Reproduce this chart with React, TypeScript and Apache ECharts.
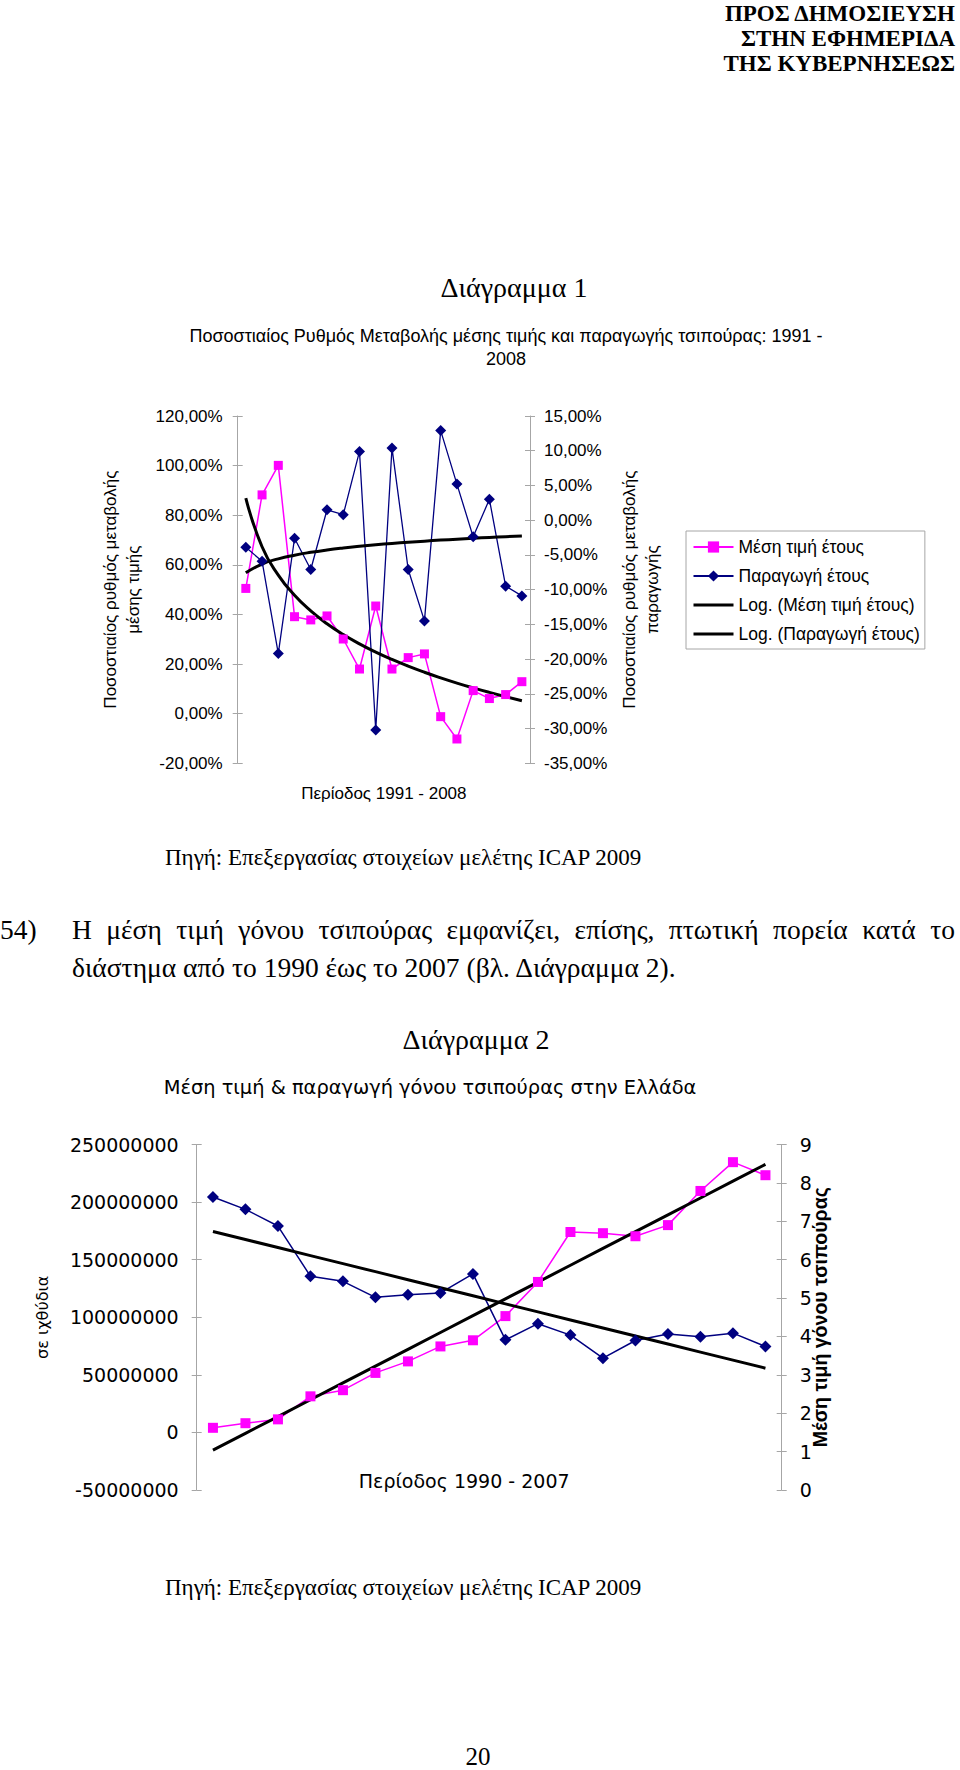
import React, { useEffect, useRef } from "react";
import * as echarts from "echarts";

// ---------- Διάγραμμα 1 data ----------
const years1 = ["1991", "1992", "1993", "1994", "1995", "1996", "1997", "1998", "1999", "2000", "2001", "2002", "2003", "2004", "2005", "2006", "2007", "2008"];
const priceChange1 = [50.5, 88.2, 100.1, 39.1, 37.8, 39.4, 30.1, 18.0, 43.4, 18.0, 22.6, 24.1, -1.2, -10.2, 9.3, 6.1, 7.7, 12.9];
const prodChange1 = [-3.9, -5.9, -19.2, -2.6, -7.1, 1.5, 0.8, 9.9, -30.2, 10.4, -7.1, -14.5, 12.9, 5.2, -2.4, 3.0, -9.5, -10.9];
const leftAxis1 = { min: -20, max: 120, interval: 20 };
const rightAxis1 = { min: -35, max: 15, interval: 5 };

// ---------- Διάγραμμα 2 data ----------
const years2 = ["1990", "1991", "1992", "1993", "1994", "1995", "1996", "1997", "1998", "1999", "2000", "2001", "2002", "2003", "2004", "2005", "2006", "2007"];
const production2 = [204400000, 193700000, 179200000, 135600000, 131200000, 117300000, 119600000, 121100000, 137600000, 80400000, 94400000, 84500000, 64500000, 79800000, 85400000, 83000000, 86200000, 74600000];
const price2 = [1.62, 1.74, 1.84, 2.44, 2.6, 3.05, 3.35, 3.74, 3.9, 4.53, 5.42, 6.72, 6.69, 6.61, 6.9, 7.79, 8.54, 8.2];
const leftAxis2 = { min: -50000000, max: 250000000, interval: 50000000 };
const rightAxis2 = { min: 0, max: 9, interval: 1 };

// least-squares trend line (as Excel's trendline), x = 1..n, optionally log(x)
function trend(ys: number[], useLog: boolean): number[] {
  const xs = ys.map((_, i) => (useLog ? Math.log(i + 1) : i + 1));
  const n = ys.length;
  const mx = xs.reduce((s, v) => s + v, 0) / n;
  const my = ys.reduce((s, v) => s + v, 0) / n;
  let sxy = 0;
  let sxx = 0;
  for (let i = 0; i < n; i++) {
    sxy += (xs[i] - mx) * (ys[i] - my);
    sxx += (xs[i] - mx) * (xs[i] - mx);
  }
  const b = sxy / sxx;
  const a = my - b * mx;
  return xs.map((x) => a + b * x);
}

const AXIS_GRAY = "#a6a6a6";
const SANS = "Liberation Sans";
const WIDE = "DejaVu Sans";
const SERIF = "Liberation Serif";
const PINK = "#ff00ff";
const NAVY = "#000080";

function mainY(grid: number, pos: string, ax: any, fmt: any, margin: number, font: string, fs: number, name: string, nameGap: number, nameStyle: any) {
  return {
    type: "value",
    gridIndex: grid,
    position: pos,
    min: ax.min,
    max: ax.max,
    interval: ax.interval,
    axisLine: { show: true, lineStyle: { color: AXIS_GRAY, width: 1 } },
    axisTick: { show: true, inside: false, length: 5, lineStyle: { color: AXIS_GRAY } },
    axisLabel: { formatter: fmt, margin, color: "#000", fontFamily: font, fontSize: fs },
    splitLine: { show: false },
    name,
    nameLocation: "middle",
    nameGap,
    nameMoveOverlap: false,
    nameTextStyle: nameStyle,
  };
}
function dupY(grid: number, pos: string, ax: any) {
  return {
    type: "value",
    gridIndex: grid,
    position: pos,
    min: ax.min,
    max: ax.max,
    interval: ax.interval,
    axisLine: { show: false },
    axisTick: { show: true, inside: true, length: 5, lineStyle: { color: AXIS_GRAY } },
    axisLabel: { show: false },
    splitLine: { show: false },
  };
}

export default function App() {
  const ref = useRef<HTMLDivElement>(null);
  useEffect(() => {
    if (!ref.current) return;
    const chart = echarts.init(ref.current, undefined, { renderer: "svg" });
    const pct = (v: number) => v.toFixed(2).replace(".", ",") + "%";
    const plain = (v: number) => String(Math.round(v));
    const trendLegend = { itemStyle: { opacity: 0 }, lineStyle: { width: 3, color: "#000" } };
    const option: any = {
      animation: false,
      backgroundColor: "transparent",
      title: [
        {
          text: "Ποσοστιαίος Ρυθμός Μεταβολής μέσης τιμής και παραγωγής τσιπούρας: 1991 -\n2008",
          left: 506,
          top: 324,
          textAlign: "center",
          padding: 0,
          textStyle: { fontFamily: SANS, fontSize: 18, fontWeight: "normal", color: "#000", lineHeight: 23 },
        },
        {
          text: "Μέση τιμή & παραγωγή γόνου τσιπούρας στην Ελλάδα",
          left: 430,
          top: 1076,
          textAlign: "center",
          padding: 0,
          textStyle: { fontFamily: WIDE, fontSize: 19.4, fontWeight: "normal", color: "#000", lineHeight: 22 },
        },
      ],
      legend: {
        orient: "vertical",
        left: 686,
        top: 531,
        padding: [7, 5, 6, 6],
        itemGap: 11,
        itemWidth: 40,
        itemHeight: 14,
        borderColor: AXIS_GRAY,
        borderWidth: 1,
        textStyle: { fontFamily: SANS, fontSize: 17.5, lineHeight: 17, color: "#000" },
        data: [
          "Μέση τιμή έτους",
          "Παραγωγή έτους",
          { name: "Log. (Μέση τιμή έτους)", ...trendLegend },
          { name: "Log. (Παραγωγή έτους)", ...trendLegend },
        ],
      },
      grid: [
        { left: 237.7, top: 416, width: 292.3, height: 347.3 },
        { left: 196.7, top: 1144.5, width: 585, height: 345.5 },
      ],
      xAxis: [
        {
          type: "category",
          gridIndex: 0,
          data: years1,
          boundaryGap: true,
          axisLine: { show: false },
          axisTick: { show: false },
          axisLabel: { show: false },
          name: "Περίοδος 1991 - 2008",
          nameLocation: "middle",
          nameGap: 21,
          nameTextStyle: { fontFamily: SANS, fontSize: 17, color: "#000", lineHeight: 18 },
        },
        {
          type: "category",
          gridIndex: 1,
          data: years2,
          boundaryGap: true,
          axisLine: { show: false },
          axisTick: { show: false },
          axisLabel: { show: false },
          name: "Περίοδος 1990 - 2007",
          nameLocation: "middle",
          nameGap: -19,
          nameTextStyle: { fontFamily: WIDE, fontSize: 19, color: "#000", lineHeight: 20, padding: [0, 50, 0, 0] },
        },
      ],
      yAxis: [
        mainY(0, "left", leftAxis1, pct, 15, SANS, 17, "Ποσοστιαίος ρυθμός μεταβολής\nμέσης τιμής", 93, { fontFamily: SANS, fontSize: 17, lineHeight: 23, color: "#000" }),
        mainY(0, "right", rightAxis1, pct, 14, SANS, 17, "Ποσοστιαίος ρυθμός μεταβολής\nπαραγωγής", 88, { fontFamily: SANS, fontSize: 17, lineHeight: 23, color: "#000" }),
        mainY(1, "left", leftAxis2, plain, 18, WIDE, 19, "σε ιχθύδια", 145, { fontFamily: WIDE, fontSize: 16, lineHeight: 18, color: "#000" }),
        mainY(1, "right", rightAxis2, plain, 18, WIDE, 19, "Μέση τιμή γόνου τσιπούρας", 28, { fontFamily: SANS, fontSize: 19.5, fontWeight: "bold", lineHeight: 21, color: "#000" }),
        dupY(0, "left", leftAxis1),
        dupY(0, "right", rightAxis1),
        dupY(1, "left", leftAxis2),
        dupY(1, "right", rightAxis2),
      ],
      series: [
        {
          name: "Μέση τιμή έτους",
          type: "line",
          xAxisIndex: 0,
          yAxisIndex: 0,
          data: priceChange1,
          symbol: "rect",
          symbolSize: 9,
          showAllSymbol: true,
          color: PINK,
          lineStyle: { color: PINK, width: 1.5 },
          itemStyle: { color: PINK },
        },
        {
          name: "Παραγωγή έτους",
          type: "line",
          xAxisIndex: 0,
          yAxisIndex: 1,
          data: prodChange1,
          symbol: "diamond",
          symbolSize: 11,
          showAllSymbol: true,
          color: NAVY,
          lineStyle: { color: NAVY, width: 1.3 },
          itemStyle: { color: NAVY },
        },
        {
          name: "Log. (Μέση τιμή έτους)",
          type: "line",
          xAxisIndex: 0,
          yAxisIndex: 0,
          data: trend(priceChange1, true),
          symbol: "none",
          smooth: true,
          color: "#000",
          lineStyle: { color: "#000", width: 3 },
        },
        {
          name: "Log. (Παραγωγή έτους)",
          type: "line",
          xAxisIndex: 0,
          yAxisIndex: 1,
          data: trend(prodChange1, true),
          symbol: "none",
          smooth: true,
          color: "#000",
          lineStyle: { color: "#000", width: 3 },
        },
        {
          name: "Μέση τιμή",
          type: "line",
          xAxisIndex: 1,
          yAxisIndex: 3,
          data: price2,
          symbol: "rect",
          symbolSize: 10,
          showAllSymbol: true,
          color: PINK,
          lineStyle: { color: PINK, width: 1.5 },
          itemStyle: { color: PINK },
        },
        {
          name: "Παραγωγή",
          type: "line",
          xAxisIndex: 1,
          yAxisIndex: 2,
          data: production2,
          symbol: "diamond",
          symbolSize: 12,
          showAllSymbol: true,
          color: NAVY,
          lineStyle: { color: NAVY, width: 1.5 },
          itemStyle: { color: NAVY },
        },
        {
          name: "Γραμμική (Μέση τιμή)",
          type: "line",
          xAxisIndex: 1,
          yAxisIndex: 3,
          data: trend(price2, false),
          symbol: "none",
          color: "#000",
          lineStyle: { color: "#000", width: 3 },
        },
        {
          name: "Γραμμική (Παραγωγή)",
          type: "line",
          xAxisIndex: 1,
          yAxisIndex: 2,
          data: trend(production2, false),
          symbol: "none",
          color: "#000",
          lineStyle: { color: "#000", width: 3 },
        },
      ],
    };
    chart.setOption(option);
    return () => chart.dispose();
  }, []);

  const serif: React.CSSProperties = { position: "absolute", fontFamily: SERIF, color: "#000", whiteSpace: "nowrap" };
  return (
    <div style={{ position: "absolute", left: 0, top: 0, width: 960, height: 1770, background: "#fff", overflow: "hidden" }}>
      <div ref={ref} style={{ position: "absolute", left: 0, top: 0, width: 960, height: 1770 }} />
      <div style={{ ...serif, right: 5, top: 1, fontSize: 23, fontWeight: "bold", lineHeight: "25px", textAlign: "right" }}>
        ΠΡΟΣ ΔΗΜΟΣΙΕΥΣΗ
        <br />
        ΣΤΗΝ ΕΦΗΜΕΡΙΔΑ
        <br />
        ΤΗΣ ΚΥΒΕΡΝΗΣΕΩΣ
      </div>
      <div style={{ ...serif, left: 414, width: 200, textAlign: "center", top: 272, fontSize: 28, lineHeight: "32px" }}>Διάγραμμα 1</div>
      <div style={{ ...serif, left: 165, top: 845, fontSize: 23, lineHeight: "26px" }}>Πηγή: Επεξεργασίας στοιχείων μελέτης ICAP 2009</div>
      <div style={{ ...serif, left: 0, top: 911, fontSize: 27.5, lineHeight: "38px" }}>54)</div>
      <div style={{ ...serif, left: 72, width: 883, top: 911, fontSize: 27.5, lineHeight: "38px", textAlign: "justify", textAlignLast: "justify" as any, whiteSpace: "normal" }}>
        Η μέση τιμή γόνου τσιπούρας εμφανίζει, επίσης, πτωτική πορεία κατά το
      </div>
      <div style={{ ...serif, left: 72, top: 949, fontSize: 27.5, lineHeight: "38px" }}>διάστημα από το 1990 έως το 2007 (βλ. Διάγραμμα 2).</div>
      <div style={{ ...serif, left: 376, width: 200, textAlign: "center", top: 1024, fontSize: 28, lineHeight: "32px" }}>Διάγραμμα 2</div>
      <div style={{ ...serif, left: 165, top: 1575, fontSize: 23, lineHeight: "26px" }}>Πηγή: Επεξεργασίας στοιχείων μελέτης ICAP 2009</div>
      <div style={{ ...serif, left: 428, width: 100, textAlign: "center", top: 1744, fontSize: 25, lineHeight: "25px" }}>20</div>
    </div>
  );
}
